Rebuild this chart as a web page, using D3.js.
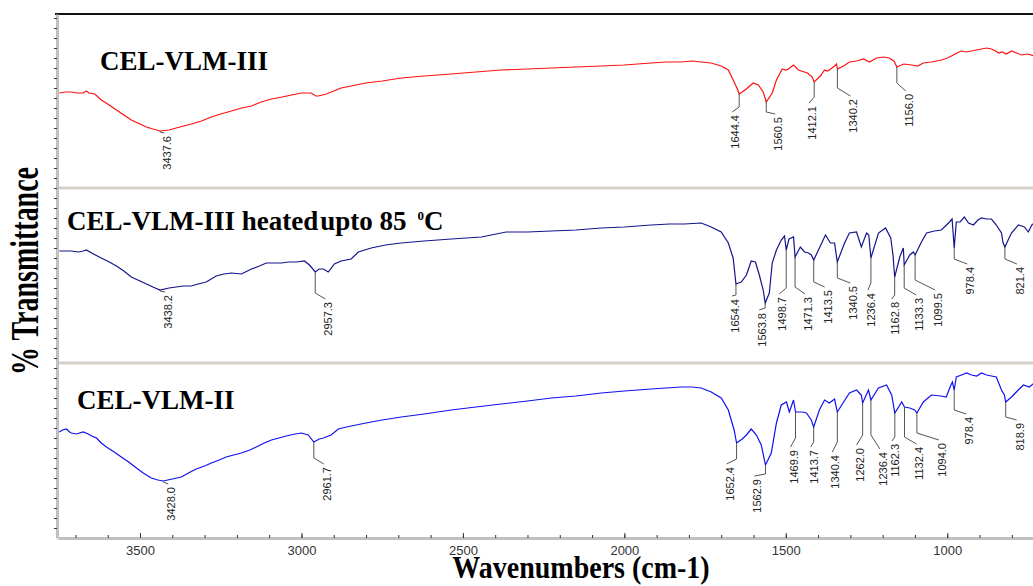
<!DOCTYPE html>
<meta charset="utf-8">
<script src="https://d3js.org/d3.v7.min.js"></script>
<style>
  body { margin: 0; background: #fff; }
</style>
<div id="ftir"></div>
<script>
// tick labels of the wavenumber axis
var xTicks = [3500, 3000, 2500, 2000, 1500, 1000];

// spectra: [wavenumber cm-1, transmittance (a.u.)]
var celVlmIII = [[3750,95],[3730,96],[3713,96],[3695,95],[3676,95],[3666,97],[3658,95],[3640,94],[3620,88],[3600,84],[3573,78],[3550,73],[3527,68],[3500,64],[3480,61],[3460,59],[3437.6,57],[3410,58],[3388,60],[3365,62],[3341,64],[3310,67],[3279,71],[3250,74],[3217,77],[3185,80],[3155,82],[3125,86],[3093,89],[3060,91],[3031,93],[3000,95],[2985,95],[2970,95],[2955,92],[2948,92],[2935,93],[2923,94],[2900,97],[2877,100],[2846,102],[2800,105],[2750,107],[2691,110],[2620,112],[2536,114],[2460,116],[2381,118],[2300,119],[2226,120],[2150,121],[2071,122],[2000,123],[1917,125],[1870,126],[1824,126],[1790,127],[1762,126],[1731,125],[1700,122],[1678,118],[1660,106],[1650,99],[1644.4,94],[1635,96],[1622,99],[1601,105],[1585,103],[1570,96],[1560.5,86],[1542,95],[1529,108],[1511,119],[1500,118],[1492,119],[1476,123],[1461,118],[1452,117],[1433,115],[1418,111],[1412.1,106],[1393,112],[1380,118],[1372,117],[1365,118],[1349,122],[1343,124],[1340.2,119],[1321,122],[1303,126],[1281,127],[1259,129],[1241,126],[1219,130],[1197,131],[1180,130],[1165,127],[1156.0,121],[1135,124],[1110,123],[1092,122],[1074,125],[1049,126],[1018,128],[1000,130],[987,132],[970,135],[956,137],[940,136],[925,137],[910,138],[894,139],[878,140],[863,139],[850,137],[841,135],[830,136],[817,134],[801,137],[785,135],[770,133],[750,134],[730,132]];

var celVlmIIIHeated = [[3750,112],[3730,112],[3713,112],[3690,111],[3676,112],[3666,113],[3650,110],[3620,105],[3595,101],[3573,97],[3550,92],[3527,86],[3500,82],[3480,79],[3460,76],[3438.2,73],[3410,75],[3388,76],[3365,77],[3341,77],[3320,79],[3295,81],[3264,87],[3240,89],[3217,90],[3186,89],[3155,94],[3130,97],[3109,100],[3085,100],[3062,100],[3040,101],[3016,101],[2991,102],[2975,98],[2957.3,91],[2945,94],[2932,94],[2917,91],[2898,99],[2877,102],[2846,104],[2824,111],[2784,115],[2740,118],[2691,120],[2620,122],[2536,124],[2443,126],[2366,131],[2300,131],[2226,132],[2150,133],[2071,135],[2000,136],[1917,138],[1860,139],[1814,139],[1762,140],[1731,136],[1700,131],[1678,120],[1663,105],[1654.4,79],[1638,81],[1622,88],[1607,102],[1594,101],[1582,88],[1570,73],[1563.8,60],[1551,70],[1542,100],[1529,113],[1514,123],[1504,127],[1498.7,113],[1490,124],[1476,126],[1471.3,106],[1455,116],[1442,111],[1430,110],[1421,108],[1413.5,103],[1396,115],[1377,128],[1362,120],[1349,120],[1340.5,101],[1318,120],[1303,130],[1281,131],[1266,116],[1250,130],[1243,128],[1236.4,105],[1213,130],[1191,135],[1175,125],[1168,108],[1162.8,86],[1147,106],[1141,111],[1136,115],[1133.3,98],[1116,108],[1105,111],[1099.5,108],[1080,121],[1064,130],[1040,132],[1018,133],[993,141],[985,144],[978.4,115],[972,141],[960,141],[947,146],[934,140],[919,138],[905,143],[894,145],[878,144],[863,144],[848,138],[832,130],[827,120],[821.4,116],[810,124],[801,130],[780,138],[770,137],[761,136],[749,131],[738,138],[730,140]];

var celVlmII = [[3750,106],[3740,108],[3728,109],[3718,106],[3713,105],[3697,104],[3676,106],[3660,104],[3650,102],[3635,100],[3620,95],[3604,91],[3580,86],[3558,81],[3535,76],[3511,70],[3490,65],[3465,60],[3445,58],[3428.0,57],[3400,59],[3372,61],[3350,65],[3326,69],[3300,72],[3279,75],[3255,78],[3233,81],[3210,83],[3186,85],[3160,88],[3140,91],[3115,95],[3093,98],[3070,100],[3047,102],[3020,104],[3000,105],[2979,103],[2961.7,96],[2945,99],[2932,100],[2908,103],[2886,109],[2861,111],[2800,115],[2750,118],[2691,121],[2620,124],[2536,128],[2460,131],[2381,134],[2300,137],[2226,140],[2150,142],[2071,145],[2000,147],[1917,149],[1870,150],[1824,151],[1790,151],[1762,150],[1731,146],[1700,140],[1678,128],[1660,108],[1652.4,95],[1635,99],[1622,103],[1607,109],[1591,103],[1576,93],[1562.9,73],[1545,85],[1529,115],[1514,133],[1498,136],[1489,126],[1476,138],[1469.9,126],[1449,126],[1436,125],[1421,118],[1413.7,111],[1396,128],[1380,138],[1365,135],[1349,139],[1340.4,126],[1321,136],[1303,145],[1281,148],[1266,143],[1262.0,135],[1244,148],[1236.4,138],[1213,150],[1188,153],[1172,143],[1162.3,125],[1141,136],[1132.4,131],[1116,130],[1101,128],[1094.0,125],[1074,136],[1049,143],[1020,142],[1003,141],[990,152],[984,156],[978.4,148],[972,161],[956,163],[940,165],[925,163],[909,162],[894,165],[878,163],[863,162],[848,161],[832,148],[823,143],[818.9,136],[801,141],[780,148],[764,153],[746,151],[730,155]];

// labelled peaks (cm-1)
var peaksIII = [3437.6, 1644.4, 1560.5, 1412.1, 1340.2, 1156.0];
var peaksHeated = [3438.2, 2957.3, 1654.4, 1563.8, 1498.7, 1471.3, 1413.5, 1340.5, 1236.4, 1162.8, 1133.3, 1099.5, 978.4, 821.4];
var peaksII = [3428.0, 2961.7, 1652.4, 1562.9, 1469.9, 1413.7, 1340.4, 1262.0, 1236.4, 1162.3, 1132.4, 1094.0, 978.4, 818.9];

var width = 1033, height = 586;
var plotLeft = 58, plotRight = 1033, plotTop = 14, plotBottom = 538;

var svg = d3.select("#ftir")
  .append("svg")
    .attr("width", width)
    .attr("height", height);

var x = d3.scaleLinear()
  .domain([3754, 734.4])
  .range([plotLeft, plotRight]);

// leader lines: [drop, dx, dy] in px, per peak label
var leaders = {
  III: [[1,4,1],[13,-7,5],[10,9,2],[15,-5,6],[19,13,8],[16,9,8]],
  heated: [[1,5,1],[21,10,6],[11,-4,1],[5,-6,2],[38,-7,6],[30,10,7],[22,11,5],[16,13,5],[25,-3,7],[18,-3,4],[23,12,7],[25,20,10],[11,13,5],[12,12,5]],
  II: [[1,5,2],[16,10,6],[16,-10,5],[9,-11,2],[26,-5,9],[15,-3,5],[30,-5,10],[32,-6,10],[35,9,14],[24,-3,4],[30,12,7],[20,22,7],[20,12,4],[15,11,3]]
};

var panels = [
  {data: celVlmIII, peaks: peaksIII, lead: leaders.III, bottom: 188, color: "#ff1010"},
  {data: celVlmIIIHeated, peaks: peaksHeated, lead: leaders.heated, bottom: 363, color: "#14148c"},
  {data: celVlmII, peaks: peaksII, lead: leaders.II, bottom: 538, color: "#1010f0"}
];

// panel separators
svg.selectAll(".sep")
  .data([188, 363])
  .enter()
  .append("line")
    .attr("x1", plotLeft).attr("x2", plotRight)
    .attr("y1", d => d).attr("y2", d => d)
    .attr("stroke", "#d4d0c8")
    .attr("stroke-width", 3);

// top frame
svg.append("line")
  .attr("x1", 55).attr("x2", plotRight)
  .attr("y1", plotTop).attr("y2", plotTop)
  .attr("stroke", "#111")
  .attr("stroke-width", 2);

// left axis with unlabelled ticks
var yAll = d3.scaleLinear().domain([0, 52.4]).range([plotBottom, plotTop]);
var yAxis = svg.append("g")
  .attr("transform", "translate(" + (plotLeft - 1) + ",0)")
  .call(d3.axisLeft(yAll).tickValues(d3.range(1, 53)).tickSize(3).tickFormat("").tickSizeOuter(0));
yAxis.select(".domain").attr("stroke", "#c0c0c0").attr("stroke-width", 3);
yAxis.selectAll(".tick line").attr("stroke", "#333");

// bottom axis
var xMinor = svg.append("g")
  .attr("transform", "translate(0," + plotBottom + ")")
  .call(d3.axisBottom(x).tickValues(d3.range(3700, 700, -100)).tickSize(-3).tickFormat("").tickSizeOuter(0));
xMinor.select(".domain").attr("stroke", "#c0c0c0").attr("stroke-width", 3);
xMinor.selectAll(".tick line").attr("stroke", "#333");

var xMajor = svg.append("g")
  .attr("transform", "translate(0," + plotBottom + ")")
  .call(d3.axisBottom(x).tickValues(xTicks).tickSize(-5).tickPadding(8).tickFormat(d3.format("d")));
xMajor.select(".domain").remove();
xMajor.selectAll(".tick line").attr("stroke", "#333");
xMajor.selectAll("text")
  .attr("fill", "#333")
  .style("font-family", "'Liberation Sans', Arial, sans-serif")
  .style("font-size", "13px");

// spectra + peak labels
var fmt = d3.format(".1f");
panels.forEach(function(p) {
  var y = d3.scaleLinear().domain([0, 175]).range([p.bottom, p.bottom - 175]);

  svg.append("path")
    .datum(p.data)
    .attr("fill", "none")
    .attr("stroke", p.color)
    .attr("stroke-width", 1.2)
    .attr("d", d3.line()
      .x(function(d) { return x(d[0]) })
      .y(function(d) { return y(d[1]) })
    );

  p.peaks.forEach(function(wn, i) {
    var pt = d3.least(p.data, d => Math.abs(d[0] - wn));
    var px = x(wn), py = y(pt[1]);
    var l = p.lead[i];
    var ex = px + l[1], ey = py + l[0] + l[2];
    svg.append("path")
      .attr("fill", "none")
      .attr("stroke", "#555")
      .attr("stroke-width", 1)
      .attr("d", "M" + px + "," + py + "V" + (py + l[0]) + "L" + ex + "," + ey);
    svg.append("text")
      .attr("transform", "translate(" + (ex + 3) + "," + (ey + 3) + ") rotate(-90)")
      .attr("text-anchor", "end")
      .attr("dominant-baseline", "central")
      .attr("fill", "#222")
      .style("font-family", "'Liberation Sans', Arial, sans-serif")
      .style("font-size", "11px")
      .text(fmt(wn));
  });
});

// sample names
var serif = "'Liberation Serif', 'Times New Roman', serif";
svg.append("text")
  .attr("x", 100).attr("y", 70)
  .style("font-family", serif).style("font-weight", "bold").style("font-size", "27px")
  .text("CEL-VLM-III");

var t2 = svg.append("text")
  .attr("x", 67).attr("y", 230)
  .style("font-family", serif).style("font-weight", "bold").style("font-size", "27px");
t2.append("tspan").text("CEL-VLM-III heated");
t2.append("tspan").attr("dx", 2).text("upto 85");
t2.append("tspan").attr("dx", 11).attr("dy", -10).style("font-size", "13px").text("0");
t2.append("tspan").attr("dy", 10).text("C");

svg.append("text")
  .attr("x", 77).attr("y", 409)
  .style("font-family", serif).style("font-weight", "bold").style("font-size", "27px")
  .text("CEL-VLM-II");

// axis titles
svg.append("text")
  .attr("transform", "translate(581,578) scale(1,1.1)")
  .attr("text-anchor", "middle")
  .style("font-family", serif).style("font-weight", "bold").style("font-size", "28px")
  .text("Wavenumbers (cm-1)");

svg.append("text")
  .attr("transform", "translate(38,271) rotate(-90) scale(1,1.4)")
  .attr("text-anchor", "middle")
  .style("font-family", serif).style("font-weight", "bold").style("font-size", "28px")
  .text("% Transmittance");
</script>
